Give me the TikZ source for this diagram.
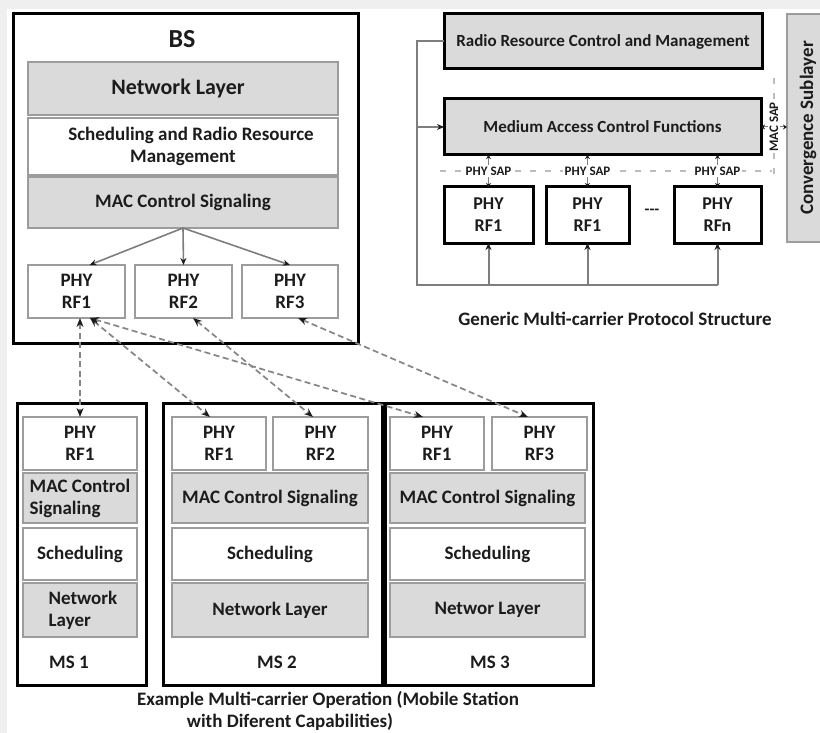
\documentclass[tikz,border=0pt]{standalone}
\usepackage{fontspec}
\setmainfont{Carlito}
\usetikzlibrary{arrows.meta}

\definecolor{bandgray}{HTML}{DADADA}
\definecolor{edgegray}{HTML}{9C9C9C}
\definecolor{linegray}{HTML}{7E7E7E}
\definecolor{dashgray}{HTML}{858585}
\definecolor{guidegray}{HTML}{BDBDBD}
\definecolor{inkdark}{HTML}{1C1C1C}
\definecolor{paper}{HTML}{EFEFEF}

\tikzset{
  dtip/.tip={Stealth[length=7pt,width=6pt,color=inkdark]},
  ltip/.tip={Stealth[length=9pt,width=7pt,color=inkdark]},
  stip/.tip={Stealth[length=4pt,width=5pt,color=inkdark]},
  fs/.style 2 args={font=\bfseries\fontsize{#1}{#2}\selectfont},
  every node/.style={text=inkdark, inner sep=0pt, outer sep=0pt},
  frame/.style={draw=black, line width=3pt, anchor=north west},
  band/.style={draw=edgegray, line width=1.5pt, fill=bandgray, anchor=north west,
               align=center, fs={19}{22}},
  wband/.style={band, fill=white},
  layerbox/.style={draw=black, line width=3pt, fill=bandgray, anchor=north west,
                   align=center, fs={17}{21}},
  phybox/.style={draw=black, line width=3pt, fill=white, anchor=north west,
                 align=center, fs={18}{22}},
  feed/.style={draw=linegray, line width=1.6pt, -{dtip}},
  loopline/.style={draw=linegray, line width=2pt},
  sap/.style={draw=linegray, line width=1pt, {stip}-{stip}},
  saplbl/.style={fill=white, fs={13}{15}, inner sep=1.5pt},
  guide/.style={draw=guidegray, line width=1.2pt, dash pattern=on 6pt off 9pt},
  link/.style={draw=dashgray, line width=1.7pt, dash pattern=on 6pt off 3.5pt, {ltip}-{ltip}},
  caption/.style={fs={19}{22}},
}

\begin{document}
\begin{tikzpicture}[x=1pt, y=-1pt]
  % page and screen edge
  \fill[white] (0,0) rectangle (820,733);
  \useasboundingbox (0,0) rectangle (820,733);
  \fill[paper] (0,0) rectangle (820,9);
  \fill[paper] (0,0) rectangle (7,733);

  % ---------------- base station ----------------
  \node[frame, minimum width=345, minimum height=329] (bs) at (13,14) {};
  \node[fs={26}{30}] (bstitle) at (182,39) {BS};
  \node[band, fs={22}{26}, minimum width=310, minimum height=53] (bsnet) at (28,62) {\hspace*{-10pt}Network Layer};
  \node[wband, minimum width=310, minimum height=57] (bssched) at (28,118) {\hspace*{16pt}Scheduling and Radio Resource\\Management};
  \node[band, minimum width=310, minimum height=51] (bsmac) at (28,177) {MAC Control Signaling};
  \node[wband, minimum width=97, minimum height=53] (bsrf1) at (28,265) {PHY\\RF1};
  \node[wband, minimum width=97, minimum height=53] (bsrf2) at (135,265) {PHY\\RF2};
  \node[wband, minimum width=96, minimum height=53] (bsrf3) at (242,265) {PHY\\RF3};

  \draw[feed] (bsmac.south) -- ([xshift=13pt]bsrf1.north);
  \draw[feed] (bsmac.south) -- (bsrf2.north);
  \draw[feed] (bsmac.south) -- (bsrf3.north);

  % ---------------- generic protocol structure ----------------
  \node[layerbox, minimum width=318, minimum height=55] (rrc) at (444,14) {Radio Resource Control and Management};
  \node[layerbox, minimum width=317, minimum height=56] (macf) at (444,99) {Medium Access Control Functions};
  \node[draw=edgegray, line width=1.5pt, fill=bandgray, anchor=north west,
        minimum width=42, minimum height=228] (conv) at (787,14) {};
  \node[fs={19}{22}, rotate=90] (convtxt) at (conv.center) {Convergence Sublayer};

  \node[phybox, minimum width=89, minimum height=56] (prf1) at (444,187) {PHY\\RF1};
  \node[phybox, minimum width=83, minimum height=56] (prf2) at (546,187) {PHY\\RF1};
  \node[phybox, minimum width=87, minimum height=56] (prfn) at (674,187) {PHY\\RFn};
  \node[fs={16}{18}] (gap) at (652,212) {-{}-{}-};

  % service access point boundaries
  \coordinate (phyL) at (440,171);
  \coordinate (phyR) at (772,171);
  \coordinate (macT) at (774,78);
  \coordinate (macB) at (774,176);
  \draw[guide] (phyL) -- (phyR);
  \draw[guide] (macT) -- (macB);

  \draw[sap] (prf1.north) -- node[saplbl] (sap1) {PHY SAP} (prf1.north |- macf.south);
  \draw[sap] (prf2.north) -- node[saplbl] (sap2) {PHY SAP} (prf2.north |- macf.south);
  \draw[sap] (prfn.north) -- node[saplbl] (sapn) {PHY SAP} (prfn.north |- macf.south);
  \draw[sap] (macf.east) -- node[saplbl, rotate=90] (sapm) {MAC SAP} (conv.west |- macf.east);

  % control loop from resource management to MAC and PHY
  \coordinate (loop) at (417,285);
  \draw[loopline] (rrc.west) -- (rrc.west -| loop) -- (loop) -- (prfn.south |- loop);
  \draw[loopline, -{dtip}] (macf.west -| loop) -- (macf.west);
  \draw[loopline, -{dtip}] (prf1.south |- loop) -- (prf1.south);
  \draw[loopline, -{dtip}] (prf2.south |- loop) -- (prf2.south);
  \draw[loopline, -{dtip}] (prfn.south |- loop) -- (prfn.south);

  \node[caption] (capgen) at (615,319) {Generic Multi-carrier Protocol Structure};

  % ---------------- mobile stations ----------------
  \node[frame, minimum width=129, minimum height=282] (ms1) at (17,403) {};
  \node[wband, minimum width=114, minimum height=53] (ms1rf) at (23,417) {PHY\\RF1};
  \node[band, align=left, minimum width=114, minimum height=50] (ms1mac) at (23,473) {MAC Control\\Signaling};
  \node[wband, minimum width=114, minimum height=52] (ms1sch) at (23,528) {Scheduling};
  \node[band, align=left, minimum width=114, minimum height=54] (ms1net) at (23,583) {\hspace*{6pt}Network\\\hspace*{6pt}Layer};
  \node[fs={19}{22}] (ms1lbl) at (69,662) {MS 1};

  \node[frame, minimum width=219, minimum height=282] (ms2) at (163,403) {};
  \node[wband, minimum width=94, minimum height=53] (ms2rf1) at (172,417) {PHY\\RF1};
  \node[wband, minimum width=95, minimum height=53] (ms2rf2) at (273,417) {PHY\\RF2};
  \node[band, minimum width=196, minimum height=50] (ms2mac) at (172,473) {MAC Control Signaling};
  \node[wband, minimum width=196, minimum height=52] (ms2sch) at (172,528) {Scheduling};
  \node[band, minimum width=196, minimum height=54] (ms2net) at (172,583) {Network Layer};
  \node[fs={19}{22}] (ms2lbl) at (277,662) {MS 2};

  \node[frame, minimum width=208, minimum height=282] (ms3) at (385,403) {};
  \node[wband, minimum width=94, minimum height=53] (ms3rf1) at (390,417) {PHY\\RF1};
  \node[wband, minimum width=95, minimum height=53] (ms3rf3) at (492,417) {PHY\\RF3};
  \node[band, minimum width=195, minimum height=50] (ms3mac) at (390,473) {MAC Control Signaling};
  \node[wband, minimum width=195, minimum height=52] (ms3sch) at (390,528) {Scheduling};
  \node[band, minimum width=195, minimum height=54] (ms3net) at (390,583) {Networ Layer};
  \node[fs={19}{22}] (ms3lbl) at (490,662) {MS 3};

  % radio links between base station and mobile carriers
  \draw[link] ([xshift=3.5pt]bsrf1.south) -- (ms1rf.north);
  \draw[link] ([xshift=13.5pt]bsrf1.south) -- ([xshift=-9pt]ms2rf1.north);
  \draw[link] ([xshift=13.5pt]bsrf1.south) -- ([xshift=-14pt]ms3rf1.north);
  \draw[link] ([xshift=9.5pt]bsrf2.south) -- ([xshift=-7.5pt]ms2rf2.north);
  \draw[link] ([xshift=8pt]bsrf3.south) -- ([xshift=-11.5pt]ms3rf3.north);

  \node[caption] (capex1) at (328,700) {Example Multi-carrier Operation (Mobile Station};
  \node[caption] (capex2) at (290,722) {with Diferent Capabilities)};
\end{tikzpicture}
\end{document}
